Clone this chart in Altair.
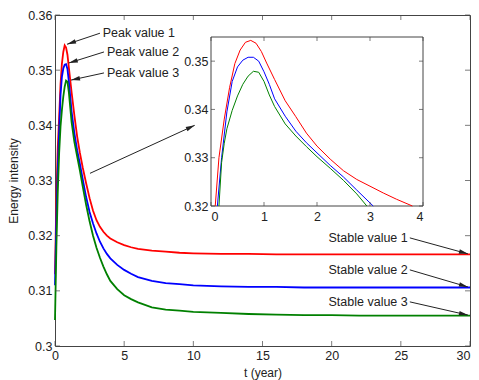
import math
import altair as alt
import pandas as pd

# ---------------- data ----------------
series = ["1", "2", "3"]
colors = ["#ff0000", "#0000ff", "#008000"]

t_main = [0, 0.1, 0.2, 0.3, 0.4, 0.5, 0.6, 0.7, 0.8, 0.9, 1.0, 1.2, 1.4, 1.6, 1.8,
          2.0, 2.25, 2.5, 2.75, 3.0, 3.25, 3.5, 3.75, 4.0, 4.5, 5, 5.5, 6, 7, 8, 9,
          10, 12, 14, 16, 18, 20, 22, 25, 28, 30]
red_main = [0.3130, 0.3270, 0.3360, 0.3415, 0.3475, 0.3512, 0.3533, 0.3545, 0.3541, 0.3528,
            0.3505, 0.3460, 0.3418, 0.3380, 0.3350, 0.3324, 0.3295, 0.3268, 0.3245, 0.3228,
            0.3216, 0.3207, 0.3200, 0.3195, 0.3188, 0.3183, 0.3179, 0.3176, 0.3173, 0.3171,
            0.3169, 0.3168, 0.3167, 0.3167, 0.3166, 0.3166, 0.3166, 0.3166, 0.3166, 0.3166, 0.3166]
blue_main = [0.3110, 0.3230, 0.3320, 0.3390, 0.3455, 0.3488, 0.3503, 0.3510, 0.3511, 0.3502,
             0.3480, 0.3425, 0.3386, 0.3355, 0.3330, 0.3303, 0.3270, 0.3243, 0.3222, 0.3204,
             0.3189, 0.3177, 0.3167, 0.3159, 0.3147, 0.3138, 0.3131, 0.3125, 0.3118, 0.3114,
             0.3112, 0.3110, 0.3108, 0.3107, 0.3107, 0.3106, 0.3106, 0.3106, 0.3106, 0.3106, 0.3106]
green_main = [0.3047, 0.3180, 0.3280, 0.3350, 0.3398, 0.3428, 0.3452, 0.3470, 0.3481, 0.3479,
              0.3460, 0.3406, 0.3370, 0.3344, 0.3318, 0.3290, 0.3256, 0.3226, 0.3200, 0.3178,
              0.3160, 0.3144, 0.3130, 0.3118, 0.3103, 0.3092, 0.3085, 0.3079, 0.3070, 0.3066,
              0.3064, 0.3062, 0.3060, 0.3058, 0.3057, 0.3056, 0.3056, 0.3055, 0.3055, 0.3055, 0.3055]

# inset (zoomed) curves
red_in_t = [0.08, 0.15, 0.25, 0.35, 0.45, 0.55, 0.65, 0.75, 0.85, 0.95, 1.05, 1.2, 1.4, 1.6,
            1.8, 2.0, 2.25, 2.5, 2.75, 3.0, 3.25, 3.5, 3.8]
red_in_v = [0.3200, 0.3300, 0.3380, 0.3445, 0.3495, 0.3523, 0.3539, 0.3543, 0.3537, 0.3520,
            0.3496, 0.3462, 0.3418, 0.3385, 0.3351, 0.3324, 0.3297, 0.3273, 0.3255, 0.3241,
            0.3227, 0.3214, 0.3200]
blue_in_t = [0.12, 0.2, 0.3, 0.4, 0.5, 0.6, 0.7, 0.8, 0.9, 1.0, 1.1, 1.2, 1.4, 1.6, 1.8, 2.0,
             2.25, 2.5, 2.75, 3.06]
blue_in_v = [0.3200, 0.3300, 0.3395, 0.3458, 0.3488, 0.3502, 0.3508, 0.3508, 0.3500, 0.3478,
             0.3452, 0.3422, 0.3386, 0.3355, 0.3331, 0.3310, 0.3284, 0.3260, 0.3233, 0.3200]
green_in_t = [0.15, 0.2, 0.25, 0.3, 0.4, 0.5, 0.6, 0.7, 0.8, 0.9, 1.0, 1.1, 1.2, 1.4, 1.6, 1.8,
              2.0, 2.25, 2.5, 2.75, 2.94]
green_in_v = [0.3200, 0.3290, 0.3330, 0.3360, 0.3398, 0.3428, 0.3452, 0.3469, 0.3479, 0.3477,
              0.3458, 0.3430, 0.3406, 0.3370, 0.3345, 0.3323, 0.3302, 0.3278, 0.3253, 0.3225,
              0.3200]

main_xticks = [0, 5, 10, 15, 20, 25, 30]
main_yticks = [0.30, 0.31, 0.32, 0.33, 0.34, 0.35, 0.36]
inset_xticks = [0, 1, 2, 3, 4]
inset_yticks = [0.32, 0.33, 0.34, 0.35]

# annotations (main-plot data units): tail -> head
ann_labels = ["Peak value 1", "Peak value 2", "Peak value 3", "",
              "Stable value 1", "Stable value 2", "Stable value 3"]
ann_x1 = [3.25, 3.54, 3.54, 2.53, 25.65, 25.65, 25.65]
ann_y1 = [0.3567, 0.3533, 0.3495, 0.3313, 0.3196, 0.3138, 0.3080]
ann_x2 = [0.87, 1.00, 1.16, 10.10, 29.85, 29.85, 29.85]
ann_y2 = [0.3547, 0.3513, 0.3482, 0.3400, 0.3167, 0.3107, 0.3056]
ann_tx = [3.45, 3.75, 3.75, None, 25.5, 25.5, 25.5]
ann_align = ["left", "left", "left", "left", "right", "right", "right"]

# ---------------- layout ----------------
W, H = 415, 331
X_DOM = [0, 30]
Y_DOM = [0.30, 0.36]
IN_X_DOM = [0, 4]
IN_Y_DOM = [0.32, 0.355]
IN_X_RANGE = [156, 368]
IN_Y_RANGE = [191, 22]
FONT = "Liberation Sans"
INK = "#222222"
FRAME = "#444444"

xs = alt.Scale(domain=X_DOM, nice=False, zero=False)
ys = alt.Scale(domain=Y_DOM, nice=False, zero=False)
ixs = alt.Scale(domain=IN_X_DOM, range=IN_X_RANGE, nice=False, zero=False)
iys = alt.Scale(domain=IN_Y_DOM, range=IN_Y_RANGE, nice=False, zero=False)
cscale = alt.Scale(domain=series, range=colors)

main_rows = []
for s, vals in zip(series, [red_main, blue_main, green_main]):
    for t, v in zip(t_main, vals):
        main_rows.append({"s": s, "t": t, "v": v})
main_df = pd.DataFrame(main_rows)

in_rows = []
for s, ts, vs in zip(series, [red_in_t, blue_in_t, green_in_t], [red_in_v, blue_in_v, green_in_v]):
    for t, v in zip(ts, vs):
        in_rows.append({"s": s, "t": t, "v": v})
in_df = pd.DataFrame(in_rows)

axis_common = dict(ticks=False, domain=False, grid=False, labelFont=FONT, labelFontSize=12.5,
                   labelColor=INK, titleFont=FONT, titleFontSize=12, titleColor=INK,
                   titleFontWeight="normal")

main_x_axis = alt.Axis(values=main_xticks, format="d", labelPadding=3,
                       labelAlign={"condition": {"test": "datum.value >= 30", "value": "right"},
                                   "value": "center"},
                       title="t (year)", titleY=30, titleBaseline="alphabetic", **axis_common)
main_y_axis = alt.Axis(values=main_yticks, format=".2~f", labelPadding=3,
                       title="Energy intensity", titlePadding=7, **axis_common)
in_x_axis = alt.Axis(orient="bottom", offset=-(H - IN_Y_RANGE[0]), values=inset_xticks,
                     format="d", labelPadding=4, title=None, **axis_common)
in_y_axis = alt.Axis(orient="left", offset=-IN_X_RANGE[0], values=inset_yticks,
                     format=".2f", labelPadding=3, title=None, **axis_common)

main_lines = alt.Chart(main_df).mark_line(strokeWidth=1.8).encode(
    x=alt.X("t:Q", scale=xs, axis=main_x_axis),
    y=alt.Y("v:Q", scale=ys, axis=main_y_axis),
    color=alt.Color("s:N", scale=cscale, legend=None),
    order="t:Q",
)

# inward ticks on all four sides of a box
def tick_layer(vals, fixed, horizontal, xsc, ysc, xax, yax, off, size):
    if horizontal:
        df = pd.DataFrame({"a": [fixed] * len(vals), "b": vals})
        return alt.Chart(df).mark_tick(orient="horizontal", size=size, thickness=1,
                                       color=FRAME, xOffset=off).encode(
            x=alt.X("a:Q", scale=xsc, axis=xax), y=alt.Y("b:Q", scale=ysc, axis=yax))
    df = pd.DataFrame({"a": vals, "b": [fixed] * len(vals)})
    return alt.Chart(df).mark_tick(orient="vertical", size=size, thickness=1,
                                   color=FRAME, yOffset=off).encode(
        x=alt.X("a:Q", scale=xsc, axis=xax), y=alt.Y("b:Q", scale=ysc, axis=yax))

main_ticks = [
    tick_layer(main_xticks, Y_DOM[0], False, xs, ys, main_x_axis, main_y_axis, -2.5, 5),
    tick_layer(main_xticks, Y_DOM[1], False, xs, ys, main_x_axis, main_y_axis, 2.5, 5),
    tick_layer(main_yticks, X_DOM[0], True, xs, ys, main_x_axis, main_y_axis, 2.5, 5),
    tick_layer(main_yticks, X_DOM[1], True, xs, ys, main_x_axis, main_y_axis, -2.5, 5),
]

# arrows
sx = W / (X_DOM[1] - X_DOM[0])
sy = H / (Y_DOM[1] - Y_DOM[0])
angles = []
for x1, y1, x2, y2 in zip(ann_x1, ann_y1, ann_x2, ann_y2):
    dx = (x2 - x1) * sx
    dy = -(y2 - y1) * sy
    angles.append(math.degrees(math.atan2(dx, -dy)) % 360)
arr_df = pd.DataFrame({"x1": ann_x1, "y1": ann_y1, "x2": ann_x2, "y2": ann_y2, "ang": angles})

arrow_lines = alt.Chart(arr_df).mark_rule(color=INK, strokeWidth=1).encode(
    x=alt.X("x1:Q", scale=xs, axis=main_x_axis), y=alt.Y("y1:Q", scale=ys, axis=main_y_axis),
    x2="x2:Q", y2="y2:Q")
arrow_heads = alt.Chart(arr_df).mark_point(
    shape="M0,0L-0.5,2L0.5,2Z", filled=True, size=81, opacity=1, color=INK, strokeWidth=0
).encode(
    x=alt.X("x2:Q", scale=xs, axis=main_x_axis), y=alt.Y("y2:Q", scale=ys, axis=main_y_axis),
    angle=alt.Angle("ang:Q", scale=None))

txt_df = pd.DataFrame({"label": ann_labels, "x": ann_tx, "y": ann_y1, "al": ann_align})
txt_df = txt_df[txt_df["label"] != ""]
left_txt = alt.Chart(txt_df[txt_df["al"] == "left"]).mark_text(
    align="left", baseline="middle", font=FONT, fontSize=12.5, color=INK).encode(
    x=alt.X("x:Q", scale=xs, axis=main_x_axis), y=alt.Y("y:Q", scale=ys, axis=main_y_axis),
    text="label:N")
right_txt = alt.Chart(txt_df[txt_df["al"] == "right"]).mark_text(
    align="right", baseline="middle", font=FONT, fontSize=12.5, color=INK).encode(
    x=alt.X("x:Q", scale=xs, axis=main_x_axis), y=alt.Y("y:Q", scale=ys, axis=main_y_axis),
    text="label:N")

main = alt.layer(main_lines, *main_ticks, arrow_lines, arrow_heads, left_txt, right_txt)

# ---------------- inset ----------------
box_df = pd.DataFrame({"x": [IN_X_DOM[0]], "x2": [IN_X_DOM[1]], "y": [IN_Y_DOM[0]], "y2": [IN_Y_DOM[1]]})
inset_box = alt.Chart(box_df).mark_rect(fill="white", stroke=FRAME, strokeWidth=1).encode(
    x=alt.X("x:Q", scale=ixs, axis=in_x_axis), x2="x2:Q",
    y=alt.Y("y:Q", scale=iys, axis=in_y_axis), y2="y2:Q")

inset_lines = alt.Chart(in_df).mark_line(strokeWidth=1).encode(
    x=alt.X("t:Q", scale=ixs, axis=in_x_axis),
    y=alt.Y("v:Q", scale=iys, axis=in_y_axis),
    color=alt.Color("s:N", scale=cscale, legend=None),
    order="t:Q",
)

inset_ticks = [
    tick_layer(inset_xticks, IN_Y_DOM[0], False, ixs, iys, in_x_axis, in_y_axis, -2, 4),
    tick_layer(inset_xticks, IN_Y_DOM[1], False, ixs, iys, in_x_axis, in_y_axis, 2, 4),
    tick_layer(inset_yticks, IN_X_DOM[0], True, ixs, iys, in_x_axis, in_y_axis, 2, 4),
    tick_layer(inset_yticks, IN_X_DOM[1], True, ixs, iys, in_x_axis, in_y_axis, -2, 4),
]

inset = alt.layer(inset_box, inset_lines, *inset_ticks)

chart = alt.layer(main, inset).resolve_scale(x="independent", y="independent").properties(
    width=W, height=H,
    padding={"left": 47, "top": 7, "right": 1, "bottom": 34},
    autosize=alt.AutoSizeParams(type="none"),
    background="white",
).configure_view(stroke=FRAME, strokeWidth=1)

chart.save("out.html", embed_options={"renderer": "svg", "actions": False})
